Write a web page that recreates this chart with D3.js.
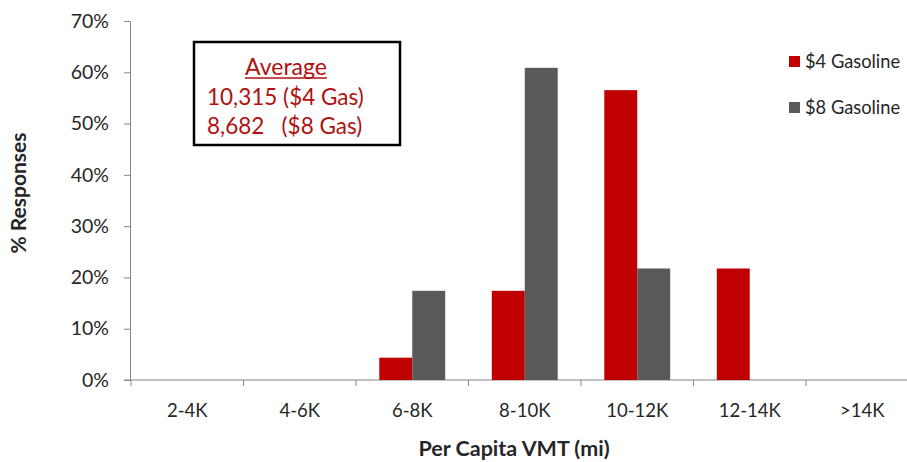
<!DOCTYPE html>
<html><head><meta charset="utf-8">
<script src="https://cdn.jsdelivr.net/npm/d3@7"></script>
<style>body{margin:0;background:#fff}svg{display:block}</style>
</head><body>
<svg id="chart" width="907" height="462"></svg>
<script>
const categories = ["2-4K","4-6K","6-8K","8-10K","10-12K","12-14K",">14K"];
const seriesNames = ["$4 Gasoline","$8 Gasoline"];
const gas4 = [0,0,4.35,17.39,56.52,21.74,0];
const gas8 = [0,0,17.39,60.87,21.74,0,0];
const yTicks = [0,10,20,30,40,50,60,70];
const avgLines = ["10,315 ($4 Gas)","8,682   ($8 Gas)"];
const colors = ["#C00000","#595959"];

(function(){
const svg = d3.select("#chart");
const font = "Lato, 'Open Sans', sans-serif";
const mLeft = 131, mRight = 918.5, mTop = 21, mBottom = 380;

const x0 = d3.scaleBand().domain(categories).range([mLeft, mRight]).paddingInner(0.414).paddingOuter(0.207);
const x1 = d3.scaleBand().domain(seriesNames).range([0, x0.bandwidth()]);
const y = d3.scaleLinear().domain([0,70]).range([mBottom, mTop]);

// y axis
const yAxis = svg.append("g").attr("transform",`translate(${mLeft - 1},0)`)
  .call(d3.axisLeft(y).tickValues(yTicks).tickFormat(d=>d+"%").tickSize(6).tickSizeOuter(0).tickPadding(15));
yAxis.selectAll("path,line").attr("stroke","#868686");
yAxis.selectAll("text").attr("font-family",font).attr("font-size",19.5).attr("fill","#262626");

// x axis
const xAxisG = svg.append("g").attr("transform",`translate(0,${mBottom})`);
xAxisG.append("line").attr("x1",mLeft-7).attr("x2",mRight).attr("stroke","#868686");
const boundaries = categories.map(c=>x0(c)-x0.step()*x0.paddingInner()/2);
xAxisG.selectAll("line.tk").data(boundaries).join("line").attr("class","tk")
  .attr("x1",d=>d).attr("x2",d=>d).attr("y1",0).attr("y2",6).attr("stroke","#868686");
xAxisG.selectAll("text").data(categories).join("text")
  .attr("x",d=>x0(d)+x0.bandwidth()/2).attr("y",37).attr("text-anchor","middle")
  .attr("font-family",font).attr("font-size",18.5).attr("fill","#262626").text(d=>d);

// bars
const data = categories.map((c,i)=>({cat:c, vals:[gas4[i],gas8[i]]}));
const groups = svg.append("g").selectAll("g").data(data).join("g")
  .attr("transform",d=>`translate(${x0(d.cat)},0)`);
groups.selectAll("rect").data(d=>d.vals.map((v,j)=>({name:seriesNames[j],v,j})).filter(e=>e.v>0)).join("rect")
  .attr("x",d=>x1(d.name)).attr("width",x1.bandwidth())
  .attr("y",d=>y(d.v)).attr("height",d=>mBottom-y(d.v))
  .attr("fill",d=>colors[d.j]);

// axis titles
svg.append("text").attr("x",514).attr("y",456).attr("text-anchor","middle")
  .attr("font-family",font).attr("font-weight","bold").attr("font-size",21.5).attr("fill","#262626")
  .text("Per Capita VMT (mi)");
svg.append("text").attr("transform","translate(26,193) rotate(-90)").attr("text-anchor","middle")
  .attr("font-family",font).attr("font-weight","bold").attr("font-size",21).attr("fill","#262626")
  .text("% Responses");

// legend
const leg = svg.append("g");
seriesNames.forEach((s,i)=>{
  const yy = 62 + i*46;
  leg.append("rect").attr("x",789).attr("y",yy-6).attr("width",11).attr("height",11).attr("fill",colors[i]);
  leg.append("text").attr("x",805).attr("y",yy+6).attr("font-family",font).attr("font-size",18.3)
    .attr("fill","#262626").text(s);
});

// annotation box
svg.append("rect").attr("x",194).attr("y",42).attr("width",206).attr("height",103)
  .attr("fill","#fff").attr("stroke","#000").attr("stroke-width",2.5);
const avgT = svg.append("text").attr("x",286).attr("y",75).attr("text-anchor","middle")
  .attr("font-family",font).attr("font-size",23).attr("fill","#B01010").text("Average");
const w = avgT.node().getComputedTextLength();
svg.append("line").attr("x1",286-w/2).attr("x2",286+w/2).attr("y1",78).attr("y2",78)
  .attr("stroke","#B01010").attr("stroke-width",1.3);
avgLines.forEach((t,i)=>{
  svg.append("text").attr("x",207).attr("y",105+i*29).attr("font-family",font).attr("font-size",22.5)
    .attr("fill","#B01010").attr("xml:space","preserve").style("white-space","pre").text(t);
});
})();
</script>
</body></html>
